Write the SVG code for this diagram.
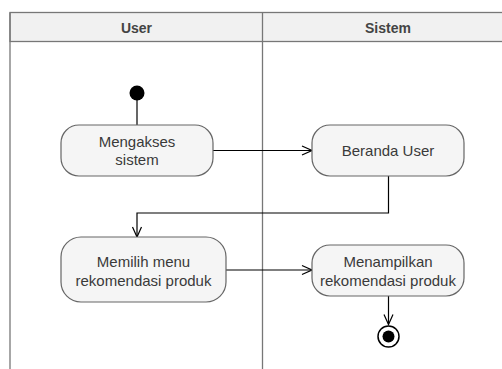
<svg xmlns="http://www.w3.org/2000/svg" width="502" height="369" viewBox="0 0 502 369">
  <style>
    .lane { fill: none; stroke: #777777; stroke-width: 1.3; }
    .head { fill: #f1f1f1; stroke: #777777; stroke-width: 1.3; }
    .head-text { font-family: "Liberation Sans", Arial, sans-serif; font-size: 14px; font-weight: bold; fill: #444444; text-anchor: middle; }
    .act { fill: #f5f5f5; stroke: #666666; stroke-width: 1.2; }
    .label { font-family: "Liberation Sans", Arial, sans-serif; font-size: 15px; fill: #3a3a3a; text-anchor: middle; }
    .flow { fill: none; stroke: #000000; stroke-width: 1.2; }
  </style>
  <defs>
    <marker id="open-arrow" markerUnits="userSpaceOnUse" markerWidth="12" markerHeight="12" viewBox="0 0 12 12" refX="11" refY="6" orient="auto">
      <path d="M1,1.5 L11,6 L1,10.5" fill="none" stroke="#000000" stroke-width="1.2"/>
    </marker>
  </defs>

  <rect width="502" height="369" fill="#ffffff"/>

  <!-- swimlanes -->
  <g id="lanes">
    <rect class="head" x="10" y="12.5" width="510" height="29"/>
    <line class="lane" x1="10" y1="12.5" x2="10" y2="369"/>
    <line class="lane" x1="262.5" y1="12.5" x2="262.5" y2="369"/>
    <text class="head-text" x="136.5" y="33">User</text>
    <text class="head-text" x="388" y="33">Sistem</text>
  </g>

  <!-- connectors -->
  <g id="connectors">
    <line class="flow" x1="137" y1="100" x2="137" y2="125"/>
    <line class="flow" x1="213" y1="150.5" x2="312" y2="150.5" marker-end="url(#open-arrow)"/>
    <polyline class="flow" points="388.5,176 388.5,213 137,213 137,237" marker-end="url(#open-arrow)"/>
    <line class="flow" x1="226" y1="270" x2="312" y2="270" marker-end="url(#open-arrow)"/>
    <line class="flow" x1="388.5" y1="296" x2="388.5" y2="324.5" marker-end="url(#open-arrow)"/>
  </g>

  <!-- start node -->
  <g id="start">
    <circle cx="137" cy="93" r="7.5" fill="#000000"/>
  </g>

  <g id="mengakses-sistem">
    <rect class="act" x="61" y="125" width="152" height="51" rx="18" ry="18"/>
    <text class="label" x="137" y="146.5">Mengakses</text>
    <text class="label" x="137" y="164.5">sistem</text>
  </g>

  <g id="beranda-user">
    <rect class="act" x="312" y="125" width="152" height="51" rx="18" ry="18"/>
    <text class="label" x="388" y="155.5">Beranda User</text>
  </g>

  <g id="memilih-menu">
    <rect class="act" x="61" y="237" width="165" height="65" rx="20" ry="20"/>
    <text class="label" x="143.5" y="266.5">Memilih menu</text>
    <text class="label" x="143.5" y="285.5">rekomendasi produk</text>
  </g>

  <g id="menampilkan-rekomendasi">
    <rect class="act" x="312" y="245" width="152" height="51" rx="18" ry="18"/>
    <text class="label" x="388" y="266.5">Menampilkan</text>
    <text class="label" x="388" y="285.5">rekomendasi produk</text>
  </g>

  <!-- final node -->
  <g id="end">
    <circle cx="388.5" cy="336.5" r="10.5" fill="#ffffff" stroke="#000000" stroke-width="1.5"/>
    <circle cx="388.5" cy="336.5" r="6" fill="#000000"/>
  </g>
</svg>
